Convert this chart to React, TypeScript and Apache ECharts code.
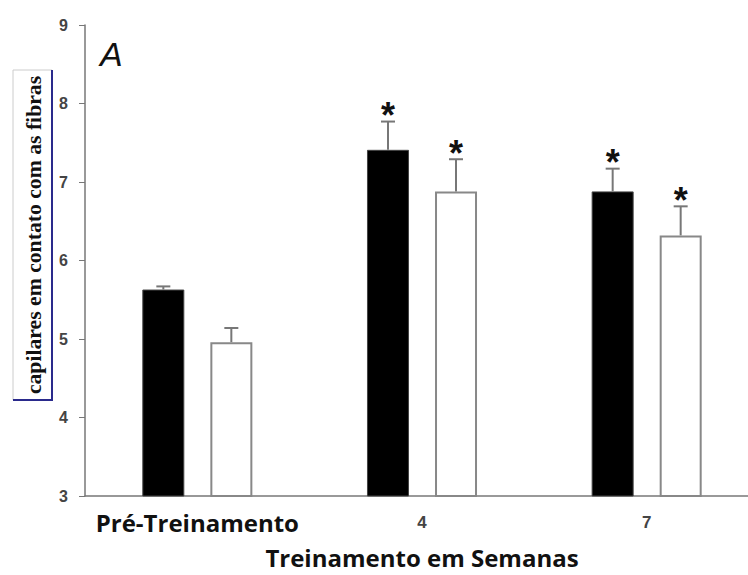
import React, { useEffect, useRef } from "react";
import * as echarts from "echarts";

const categories = ["Pré-Treinamento", "4", "7"];
const blackValues = [5.63, 7.41, 6.88];
const blackErrors = [0.04, 0.36, 0.29];
const whiteValues = [4.96, 6.88, 6.32];
const whiteErrors = [0.18, 0.41, 0.37];
const significant = [false, true, true];
const yTicks = [3, 4, 5, 6, 7, 8, 9];

const BAR_W = 42;
const OFFSET = 34;

function errorSeries(values: number[], errors: number[], offset: number) {
  return {
    type: "custom",
    z: 5,
    data: values.map((v, i) => [i, v, errors[i], significant[i] ? 1 : 0]),
    renderItem: (params: any, api: any) => {
      const idx = api.value(0);
      const v = api.value(1);
      const e = api.value(2);
      const sig = api.value(3);
      const top = api.coord([idx, v]);
      const cap = api.coord([idx, v + e]);
      const x = top[0] + offset;
      const children: any[] = [
        {
          type: "line",
          shape: { x1: x, y1: top[1], x2: x, y2: cap[1] },
          style: { stroke: "#777", lineWidth: 2 },
        },
        {
          type: "line",
          shape: { x1: x - 7, y1: cap[1], x2: x + 7, y2: cap[1] },
          style: { stroke: "#777", lineWidth: 2 },
        },
      ];
      if (sig) {
        children.push({
          type: "text",
          style: {
            text: "*",
            x: x,
            y: cap[1] + 12,
            textAlign: "center",
            textVerticalAlign: "bottom",
            fontSize: 36,
            fontWeight: "bold",
            fontFamily: "Liberation Sans",
            fill: "#111",
          },
        });
      }
      return { type: "group", children };
    },
  };
}

export default function App() {
  const ref = useRef<HTMLDivElement>(null);
  useEffect(() => {
    if (!ref.current) return;
    const chart = echarts.init(ref.current, undefined, { renderer: "svg" });
    chart.setOption({
      animation: false,
      backgroundColor: "#fff",
      grid: { left: 85, right: 0, top: 25, bottom: 79, outerBoundsMode: "none", containLabel: false },
      xAxis: {
        type: "category",
        data: categories,
        axisLine: { lineStyle: { color: "#777", width: 1.5 } },
        axisTick: { alignWithLabel: true, length: 5, lineStyle: { color: "#555" } },
        axisLabel: {
          margin: 12,
          formatter: (v: string) => (v.length > 2 ? `{a|${v}}` : `{b|${v}}`),
          rich: {
            a: {
              fontFamily: "Open Sans",
              fontWeight: "bold",
              fontSize: 24,
              color: "#111",
              lineHeight: 28,
            },
            b: {
              fontFamily: "Liberation Sans",
              fontWeight: "bold",
              fontSize: 17,
              color: "#444",
              lineHeight: 28,
            },
          },
        },
        name: "Treinamento em Semanas",
        nameLocation: "middle",
        nameGap: 49,
        nameTextStyle: {
          fontFamily: "Open Sans",
          fontWeight: "bold",
          fontSize: 24,
          lineHeight: 24,
          color: "#111",
        },
      },
      yAxis: {
        type: "value",
        min: 3,
        max: 9,
        interval: 1,
        splitLine: { show: false },
        axisLine: { show: true, lineStyle: { color: "#777", width: 1.5 } },
        axisTick: { show: true, length: 6, lineStyle: { color: "#777" } },
        axisLabel: {
          margin: 17,
          fontFamily: "Liberation Sans",
          fontWeight: "bold",
          fontSize: 16,
          color: "#444",
          formatter: (v: number) => (yTicks.includes(v) ? String(v) : ""),
        },
      },
      series: [
        {
          type: "bar",
          data: blackValues,
          barWidth: BAR_W,
          barGap: "62%",
          itemStyle: { color: "#000", borderColor: "#444", borderWidth: 1 },
        },
        {
          type: "bar",
          data: whiteValues,
          barWidth: BAR_W,
          itemStyle: { color: "#fff", borderColor: "#888", borderWidth: 2 },
        },
        errorSeries(blackValues, blackErrors, -OFFSET),
        errorSeries(whiteValues, whiteErrors, OFFSET),
      ],
      graphic: [
        {
          type: "text",
          left: 100,
          top: 37,
          style: {
            text: "A",
            fontFamily: "Liberation Sans",
            fontStyle: "italic",
            fontSize: 34,
            fill: "#111",
          },
        },
        {
          type: "rect",
          shape: { x: 13, y: 70, width: 39, height: 330 },
          style: { fill: "#fff", stroke: "#ccc", lineWidth: 1 },
        },
        {
          type: "polyline",
          shape: { points: [[52, 70], [52, 400], [13, 400]] },
          style: { stroke: "#2a2a8c", lineWidth: 2, fill: "none" },
        },
        {
          type: "text",
          x: 34,
          y: 235,
          rotation: Math.PI / 2,
          style: {
            text: "capilares em contato com as fibras",
            x: 0,
            y: 0,
            textAlign: "center",
            textVerticalAlign: "middle",
            fontFamily: "Liberation Serif",
            fontWeight: "bold",
            fontSize: 21.7,
            fill: "#111",
          },
        },
      ],
    });
    return () => chart.dispose();
  }, []);
  return (
    <div
      style={{ position: "fixed", left: 0, top: 0, width: 748, height: 575, overflow: "hidden" }}
    >
      <div ref={ref} style={{ width: 759, height: 575 }} />
    </div>
  );
}
